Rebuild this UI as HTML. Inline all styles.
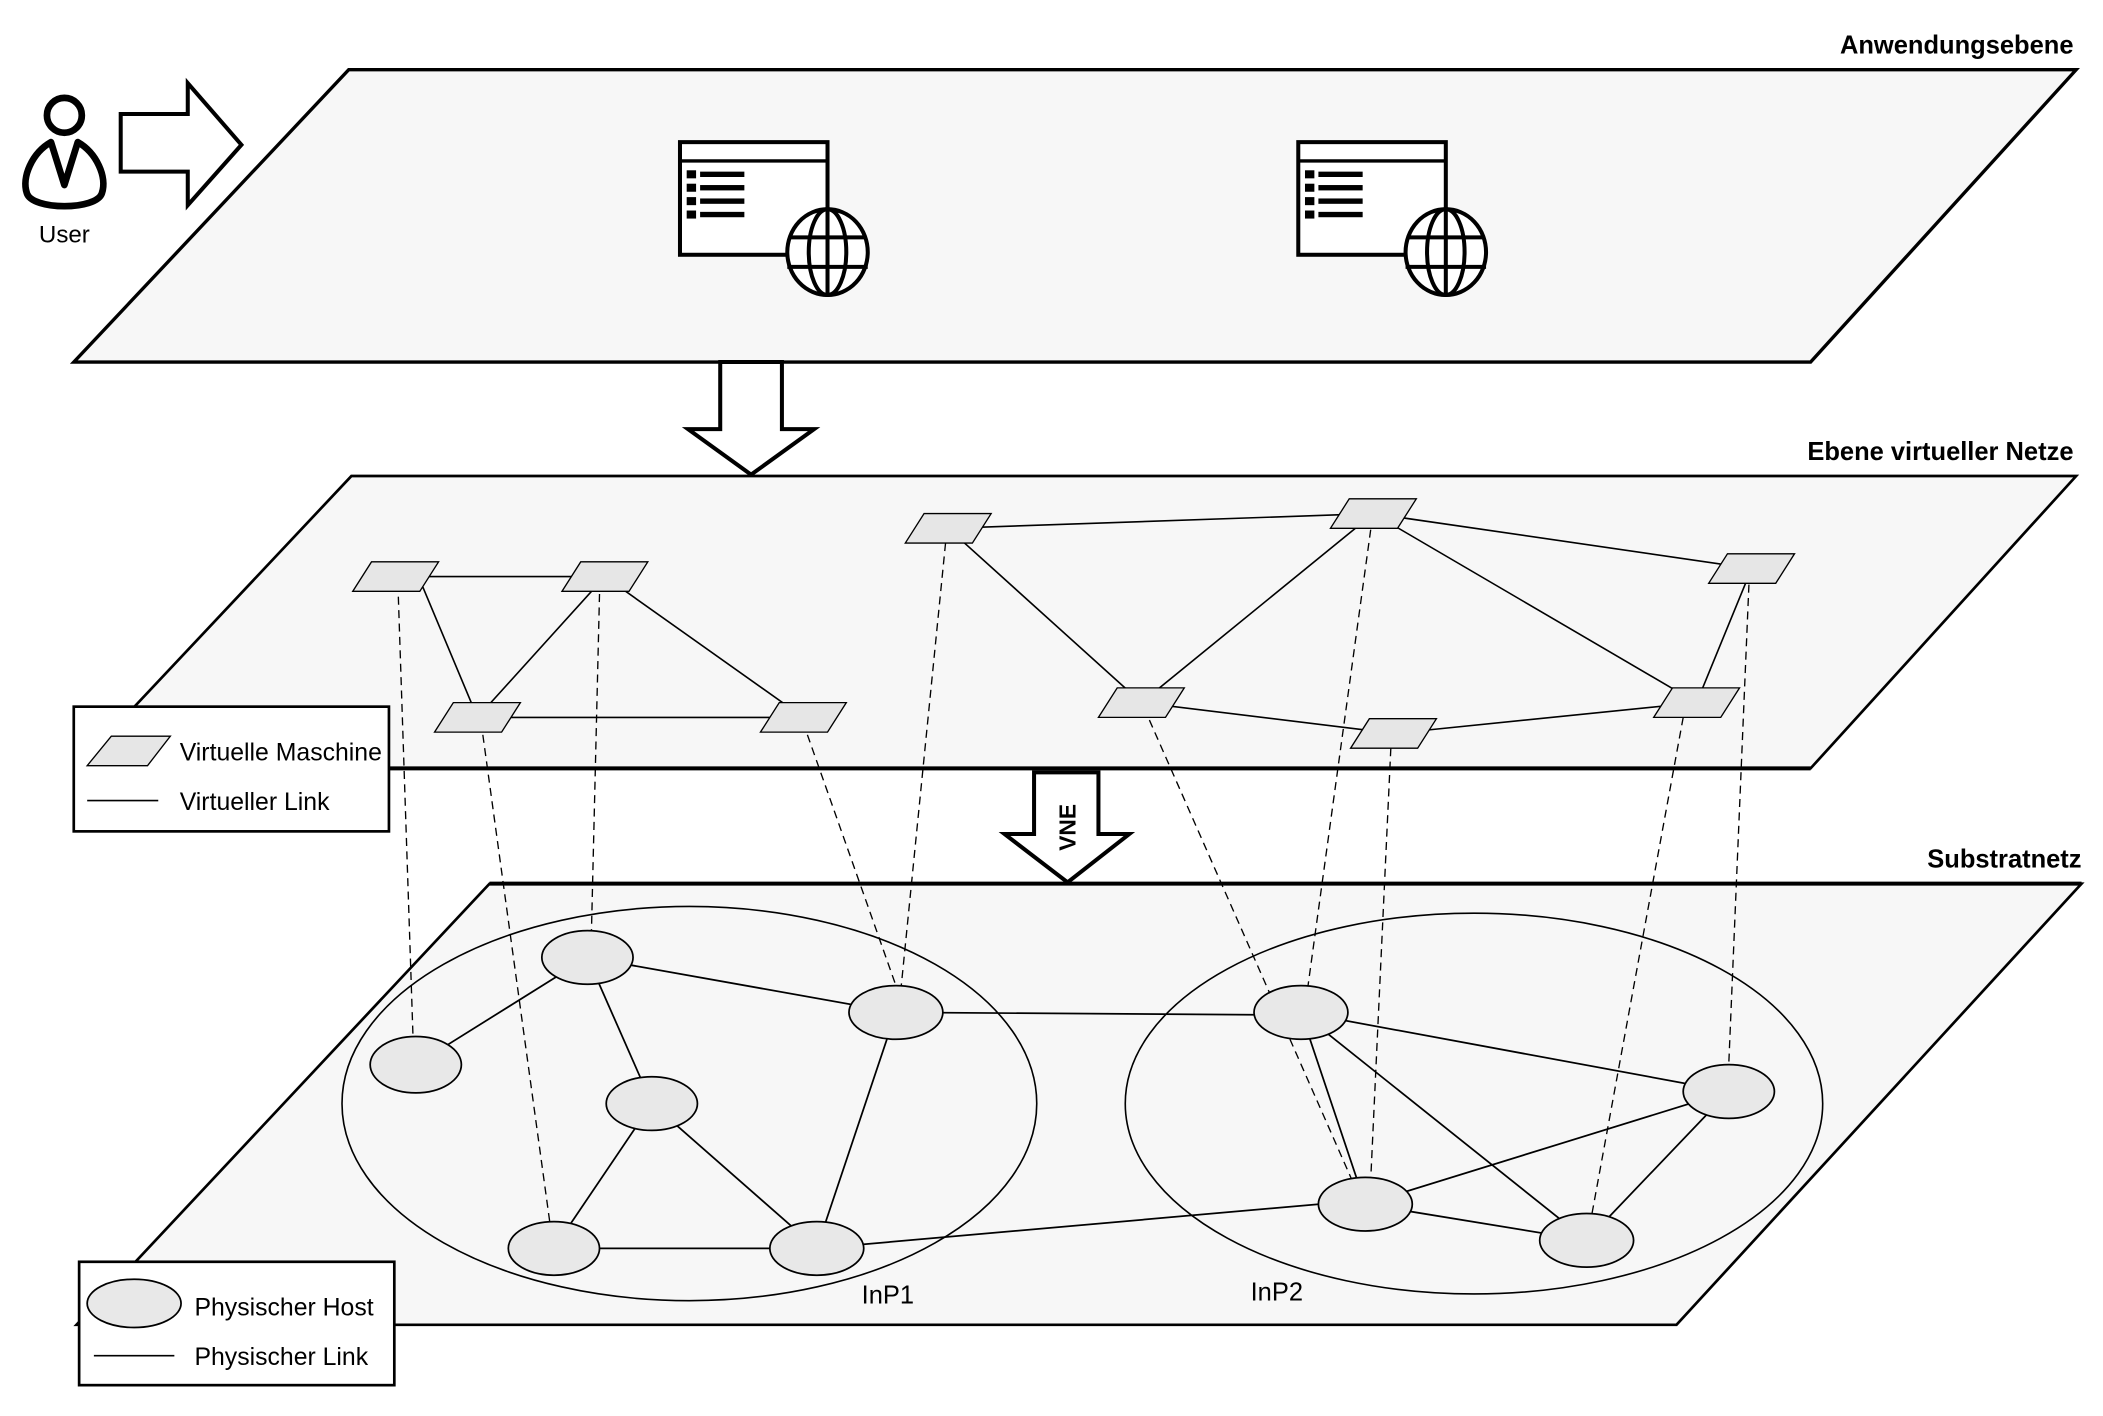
<!DOCTYPE html>
<html><head><meta charset="utf-8"><style>
html,body{margin:0;padding:0;background:#fff;}
svg{display:block;}
text{font-family:"Liberation Sans",Arial,sans-serif;}
</style></head><body>
<svg width="2103" height="1416" viewBox="0 0 1568 1056" preserveAspectRatio="none" xmlns="http://www.w3.org/2000/svg">
<defs>
<g id="app">
<rect x="507" y="106" width="110" height="84" fill="#fff" stroke="#000" stroke-width="3"/>
<line x1="507" y1="120" x2="617" y2="120" stroke="#000" stroke-width="2.5"/>
<g fill="#000">
<rect x="512" y="127" width="7" height="6"/><rect x="522" y="128" width="33" height="4"/>
<rect x="512" y="137" width="7" height="6"/><rect x="522" y="138" width="33" height="4"/>
<rect x="512" y="147" width="7" height="6"/><rect x="522" y="148" width="33" height="4"/>
<rect x="512" y="157" width="7" height="6"/><rect x="522" y="158" width="33" height="4"/>
</g>
<g fill="none" stroke="#000" stroke-width="3">
<ellipse cx="617" cy="188" rx="30" ry="32" fill="#fff"/>
<ellipse cx="617" cy="188" rx="14" ry="32"/>
<line x1="617" y1="156" x2="617" y2="220"/>
<line x1="588" y1="177" x2="646" y2="177"/>
<line x1="587" y1="199" x2="647" y2="199"/>
</g>
</g>
<g id="vm"><polygon points="-18,-11 32,-11 18,11 -32,11" fill="#e6e6e6" stroke="#000" stroke-width="1"/></g>
</defs>

<!-- top plane -->
<polygon points="260,52 1548,52 1350,270 55,270" fill="#f7f7f7" stroke="#000" stroke-width="2.5"/>
<text x="1546" y="40" font-size="19" font-weight="bold" text-anchor="end">Anwendungsebene</text>
<use href="#app"/>
<use href="#app" transform="translate(461,0)"/>

<!-- user -->
<circle cx="48" cy="86" r="13" fill="none" stroke="#000" stroke-width="5"/>
<path d="M38,106 L48,138 L58,106 C72,114 80,132 76,144 C72,157 24,157 20,144 C16,132 24,114 38,106 Z" fill="none" stroke="#000" stroke-width="5" stroke-linejoin="round"/>
<text x="48" y="181" font-size="18" text-anchor="middle">User</text>
<polygon points="90,85 140,85 140,62 180,108 140,153 140,128 90,128" fill="#fff" stroke="#000" stroke-width="3"/>

<!-- arrow down 1 -->
<polygon points="537,270 583,270 583,320 607,320 560,354 513,320 537,320" fill="#fff" stroke="#000" stroke-width="3"/>

<!-- middle plane -->
<polygon points="262,355 1548,355 1350,573 57,573" fill="#f7f7f7" stroke="#000" stroke-width="2"/>
<line x1="57" y1="573" x2="1350" y2="573" stroke="#000" stroke-width="3"/>
<text x="1546" y="343" font-size="19" font-weight="bold" text-anchor="end">Ebene virtueller Netze</text>

<!-- VNE arrow -->
<polygon points="771,576 819,576 819,622 842,622 796,658 749,622 771,622" fill="#fff" stroke="#000" stroke-width="3"/>
<text x="0" y="0" font-size="17" font-weight="bold" text-anchor="middle" transform="translate(802,617) rotate(-90)">VNE</text>

<!-- bottom plane -->
<polygon points="365,659 1552,659 1250,988 57,988" fill="#f7f7f7" stroke="#000" stroke-width="2"/>
<line x1="365" y1="659" x2="1552" y2="659" stroke="#000" stroke-width="3"/>
<text x="1552" y="647" font-size="19" font-weight="bold" text-anchor="end">Substratnetz</text>

<!-- InP circles -->
<ellipse cx="514" cy="823" rx="259" ry="147" fill="none" stroke="#000" stroke-width="1.2"/>
<ellipse cx="1099" cy="823" rx="260" ry="142" fill="none" stroke="#000" stroke-width="1.2"/>
<text x="662" y="972" font-size="19" text-anchor="middle">InP1</text>
<text x="952" y="970" font-size="19" text-anchor="middle">InP2</text>

<!-- physical links -->
<g stroke="#000" stroke-width="1.3">
<line x1="438" y1="714" x2="668" y2="755"/>
<line x1="438" y1="714" x2="310" y2="794"/>
<line x1="438" y1="714" x2="486" y2="823"/>
<line x1="486" y1="823" x2="413" y2="931"/>
<line x1="486" y1="823" x2="609" y2="931"/>
<line x1="668" y1="755" x2="609" y2="931"/>
<line x1="413" y1="931" x2="609" y2="931"/>
<line x1="668" y1="755" x2="970" y2="757"/>
<line x1="609" y1="931" x2="1018" y2="895"/>
<line x1="970" y1="755" x2="1289" y2="814"/>
<line x1="970" y1="755" x2="1018" y2="898"/>
<line x1="970" y1="755" x2="1183" y2="925"/>
<line x1="1018" y1="898" x2="1289" y2="814"/>
<line x1="1018" y1="898" x2="1183" y2="925"/>
<line x1="1289" y1="814" x2="1183" y2="925"/>
</g>

<!-- virtual links -->
<g stroke="#000" stroke-width="1.2">
<line x1="295" y1="430" x2="451" y2="430"/>
<line x1="312" y1="430" x2="356" y2="535"/>
<line x1="451" y1="430" x2="356" y2="535"/>
<line x1="451" y1="430" x2="599" y2="535"/>
<line x1="356" y1="535" x2="599" y2="535"/>
<line x1="707" y1="394" x2="1024" y2="383"/>
<line x1="707" y1="394" x2="851" y2="524"/>
<line x1="1024" y1="383" x2="851" y2="524"/>
<line x1="1024" y1="383" x2="1265" y2="524"/>
<line x1="1024" y1="383" x2="1306" y2="424"/>
<line x1="1306" y1="424" x2="1265" y2="524"/>
<line x1="851" y1="524" x2="1039" y2="547"/>
<line x1="1039" y1="547" x2="1265" y2="524"/>
</g>

<!-- dashed mappings -->
<g stroke="#000" stroke-width="1" stroke-dasharray="6,4" fill="none">
<line x1="297" y1="445" x2="308" y2="775"/>
<line x1="360" y1="548" x2="410" y2="912"/>
<line x1="447" y1="443" x2="441" y2="694"/>
<line x1="602" y1="548" x2="668" y2="735"/>
<line x1="705" y1="405" x2="672" y2="735"/>
<line x1="857" y1="537" x2="1008" y2="880"/>
<line x1="1022" y1="395" x2="975" y2="737"/>
<line x1="1037" y1="558" x2="1022" y2="880"/>
<line x1="1255" y1="535" x2="1187" y2="905"/>
<line x1="1304" y1="436" x2="1289" y2="793"/>
</g>

<!-- physical hosts -->
<g fill="#e8e8e8" stroke="#000" stroke-width="1.3">
<ellipse cx="438" cy="714" rx="34" ry="20"/>
<ellipse cx="668" cy="755" rx="35" ry="20"/>
<ellipse cx="310" cy="794" rx="34" ry="21"/>
<ellipse cx="486" cy="823" rx="34" ry="20"/>
<ellipse cx="413" cy="931" rx="34" ry="20"/>
<ellipse cx="609" cy="931" rx="35" ry="20"/>
<ellipse cx="970" cy="755" rx="35" ry="20"/>
<ellipse cx="1289" cy="814" rx="34" ry="20"/>
<ellipse cx="1018" cy="898" rx="35" ry="20"/>
<ellipse cx="1183" cy="925" rx="35" ry="20"/>
</g>

<!-- virtual machines -->
<use href="#vm" transform="translate(295,430)"/>
<use href="#vm" transform="translate(451,430)"/>
<use href="#vm" transform="translate(356,535)"/>
<use href="#vm" transform="translate(599,535)"/>
<use href="#vm" transform="translate(707,394)"/>
<use href="#vm" transform="translate(1024,383)"/>
<use href="#vm" transform="translate(1306,424)"/>
<use href="#vm" transform="translate(851,524)"/>
<use href="#vm" transform="translate(1039,547)"/>
<use href="#vm" transform="translate(1265,524)"/>

<!-- legend middle -->
<rect x="55" y="527" width="235" height="93" fill="#fff" stroke="#000" stroke-width="2"/>
<polygon points="83,549 127,549 110,571 65,571" fill="#e6e6e6" stroke="#000" stroke-width="1"/>
<text x="134" y="567" font-size="18.5">Virtuelle Maschine</text>
<line x1="65" y1="597" x2="118" y2="597" stroke="#000" stroke-width="1.2"/>
<text x="134" y="604" font-size="18.5">Virtueller Link</text>

<!-- legend bottom -->
<rect x="59" y="941" width="235" height="92" fill="#fff" stroke="#000" stroke-width="2"/>
<ellipse cx="100" cy="972" rx="35" ry="18" fill="#e8e8e8" stroke="#000" stroke-width="1.3"/>
<text x="145" y="981" font-size="18.5">Physischer Host</text>
<line x1="70" y1="1011" x2="130" y2="1011" stroke="#000" stroke-width="1.2"/>
<text x="145" y="1018" font-size="18.5">Physischer Link</text>
</svg>
</body></html>
